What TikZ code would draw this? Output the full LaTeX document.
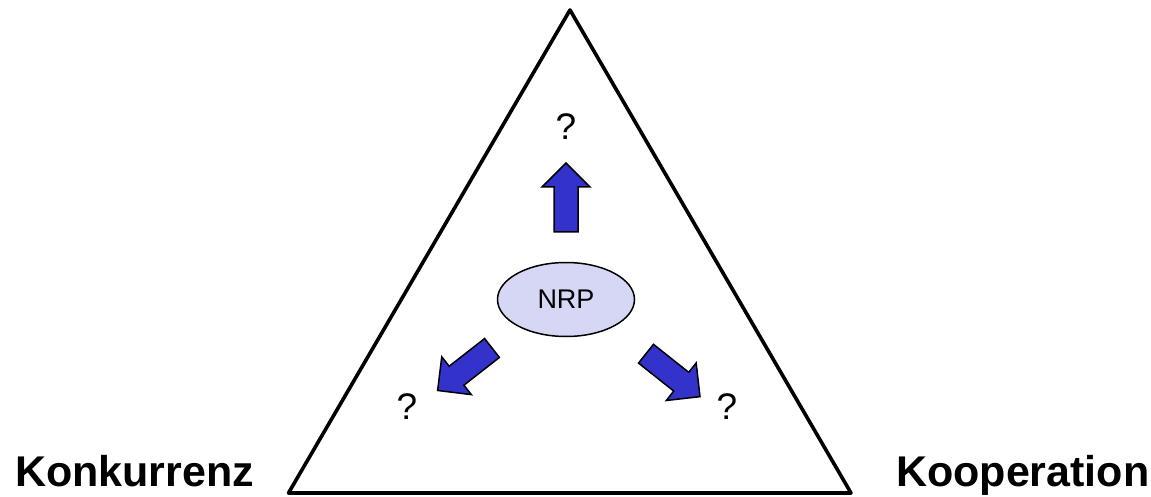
\documentclass[tikz,border=0pt]{standalone}
\usepackage{fontspec}
\setmainfont{Liberation Sans}
\usetikzlibrary{shapes.geometric}
\definecolor{arrowblue}{HTML}{3333CC}
\definecolor{ellfill}{HTML}{D6D6F5}
\tikzset{
  arrowbody/.style={fill=arrowblue, draw=black, line width=1.5pt, line join=miter},
  blockarrow/.pic={\draw[arrowbody] (0,-12) -- (45,-12) -- (45,-24) -- (69,0) -- (45,24) -- (45,12) -- (0,12) -- cycle;},
  qmark/.style={font=\fontsize{37}{42}\selectfont, inner sep=0pt},
  cornerlabel/.style={font=\fontsize{43}{48}\selectfont\bfseries, inner sep=0pt, anchor=base west},
  centre/.style={ellipse, draw=black, line width=1.5pt, fill=ellfill, minimum width=137pt, minimum height=74pt, inner sep=0pt, font=\fontsize{27}{30}\selectfont},
  triangleline/.style={draw=black, line width=3.6pt, line join=round}
}
\begin{document}
\begin{tikzpicture}[x=1pt,y=1pt]
\useasboundingbox (0,0) rectangle (1151,496);
\coordinate (apex) at (570,486);
\coordinate (bl) at (288.5,3);
\coordinate (br) at (851,3);
\draw[triangleline] (apex) -- (bl) -- (br) -- cycle;
\node[centre] (nrp) at (566,196.5) {NRP};
\pic[rotate=90] at (566,264) {blockarrow};
\pic[rotate=218] at (492,148) {blockarrow};
\pic[rotate=-38.5] at (646,142.3) {blockarrow};
\node[qmark] (qtop) at (566,369) {?};
\node[qmark] (qleft) at (407,89) {?};
\node[qmark] (qright) at (727,89) {?};
\node[cornerlabel] (konk) at (15,9.3) {Konkurrenz};
\node[cornerlabel] (koop) at (896,9.3) {Kooperation};
\end{tikzpicture}
\end{document}
